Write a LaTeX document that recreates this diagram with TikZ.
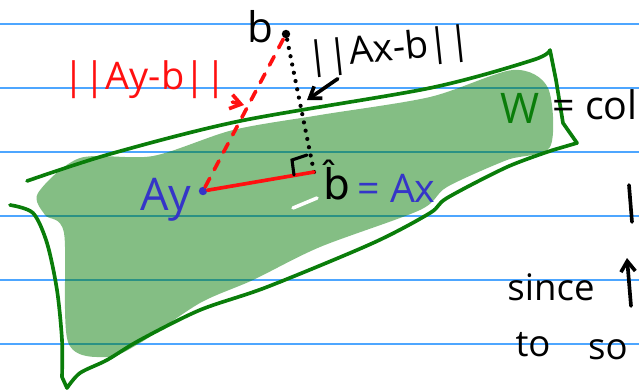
\documentclass[tikz,border=0pt]{standalone}
\usepackage{fontspec}
\setmainfont{Open Sans}
\newfontfamily\accentfont{DejaVu Sans}
\usetikzlibrary{arrows.meta}
\definecolor{rule}{HTML}{4DA6FF}
\definecolor{planegreen}{HTML}{0A7D0A}
\definecolor{inkblue}{HTML}{3535C8}
\definecolor{inkred}{HTML}{FF1010}
\tikzset{
  ruled/.style={draw=rule,line width=0.9pt},
  outline/.style={draw=planegreen,line width=2.6pt,line cap=round,line join=round},
  pen/.style={line width=2.6pt,line cap=round},
  hand/.style={inner sep=0pt,font=\fontsize{28}{30}\selectfont},
  dot/.style={circle,inner sep=0pt,minimum size=6pt},
  flow/.style={-{Straight Barb[length=2.6mm,width=3.6mm]},pen}
}

\begin{document}
\begin{tikzpicture}[x=0.025cm,y=-0.025cm]
  \useasboundingbox (0,0) rectangle (639,391);
  \foreach \y in {24,88,...,344} \draw[ruled] (0,\y) -- (639,\y);

  % shaded column space
  \fill[planegreen,fill opacity=0.5] plot[smooth cycle,tension=0.5] coordinates
    {(38,193) (80,158) (153,156) (233,130) (320,115) (430,97) (513,70) (548,88)
     (550,147) (507,160) (447,187) (420,210) (320,247) (253,280) (200,303)
     (140,343) (107,357) (68,342) (64,233) (45,215)};
  \draw[white,line width=2.5pt,line cap=round] (293,208) -- (317,198);

  % hand drawn plane
  \draw[outline] plot[smooth] coordinates
      {(27,181) (110,154) (240,121) (430,88) (533,60) (550,50)}
    -- (556,80) -- (563,123) -- (577,143)
    -- plot[smooth] coordinates
      {(553,150) (507,167) (447,198) (430,213) (373,243) (267,287) (200,310)
       (140,340) (107,360) (80,373) (67,388)}
    -- plot[smooth] coordinates
      {(62,377) (62,340) (57,290) (47,243) (33,213) (10,205)};

  % points
  \node[dot,fill=black] (b) at (286,34) {};
  \node[dot,fill=inkblue] (ay) at (203,191) {};
  \coordinate (bhat) at (314,172);
  \draw[pen,dash pattern=on 0pt off 6pt,line width=3pt] (bhat) -- (b);
  \draw[pen,draw=inkred,dash pattern=on 7pt off 7pt] (ay) -- (b);
  \draw[pen,draw=inkred] (ay) -- (bhat);
  \draw[pen,line width=2.2pt] (307,155) -- (292,160) -- (294,175);

  % labels
  \node[hand,font=\fontsize{30}{32}\selectfont] (blabel) at (260,27) {b};
  \node[hand,text=inkred,font=\fontsize{27}{29}\selectfont] (rednorm) at (145,80) {||Ay-b||};
  \coordinate (redtip) at (244,105);
  \draw[flow,draw=inkred,shorten <=8pt] (rednorm) -- (redtip);
  \node[hand,rotate=6,font=\fontsize{27}{29}\selectfont] (blacknorm) at (389,51) {||Ax-b||};
  \coordinate (blacktip) at (307,100);
  \draw[flow] ([xshift=20pt]blacknorm.south west) -- (blacktip);
  \node[hand,text=inkblue,font=\fontsize{32}{34}\selectfont] (aylabel) at (166,200) {Ay};
  \node[hand,font=\accentfont\fontsize{30}{32}\selectfont] (bhatlabel) at (337,180) {b̂};
  \node[hand,text=inkblue,anchor=west] (axlabel) at (357,188) {= Ax};
  \node[hand,text=planegreen,font=\fontsize{30}{32}\selectfont] (wlabel) at (520,108) {W};
  \node[hand,anchor=west] (collabel) at (552,105) {= col};

  \draw[pen] (629,185) -- (632,222);
  \node[hand,font=\fontsize{26}{28}\selectfont] (since) at (551,287) {since};
  \draw[flow] (631,306) -- (627,258);
  \node[hand,font=\fontsize{26}{28}\selectfont] (to) at (533,345) {to};
  \node[hand,font=\fontsize{26}{28}\selectfont] (so) at (608,350) {so};
\end{tikzpicture}
\end{document}
